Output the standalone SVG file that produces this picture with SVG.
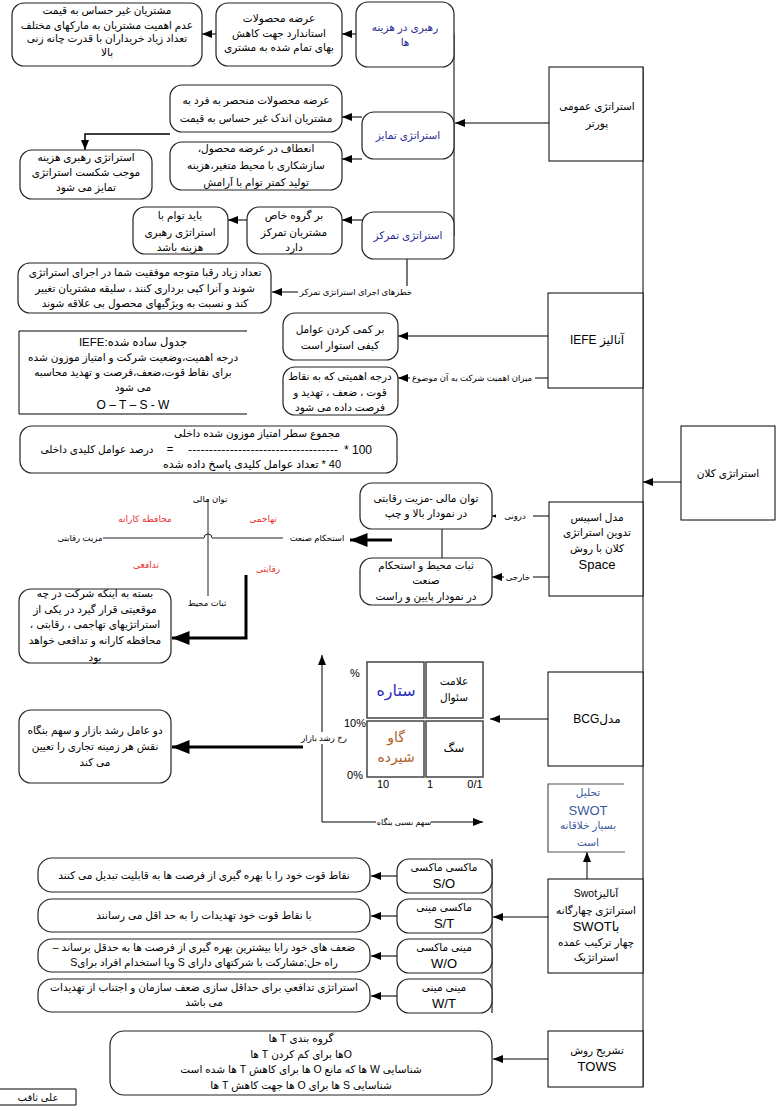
<svg xmlns="http://www.w3.org/2000/svg" width="776" height="1107" viewBox="0 0 776 1107">
<defs>
<marker id="a" viewBox="0 0 10 8" refX="10" refY="4" markerWidth="11" markerHeight="8" markerUnits="userSpaceOnUse" orient="auto"><path d="M0,0 L10,4 L0,8 z" fill="#000"/></marker>
<marker id="A" viewBox="0 0 10 8" refX="10" refY="4" markerWidth="20" markerHeight="14" markerUnits="userSpaceOnUse" orient="auto"><path d="M0,0 L10,4 L0,8 z" fill="#000"/></marker>
<style>
.sq{fill:#fff;stroke:#000;stroke-width:1}
.rd{fill:#fff;stroke:#222;stroke-width:1.2}
.t{font-family:"Liberation Sans","DejaVu Sans",sans-serif;font-size:10.5px;fill:#000;text-anchor:middle;direction:rtl}
.l{font-family:"Liberation Sans","DejaVu Sans",sans-serif;fill:#000;text-anchor:middle}
.sm{font-size:8.5px}
.bl{fill:#2b2b96}
.sb{fill:#3a5a9a}
.rdt{fill:#e8302f;font-size:9px}
.c{fill:none;stroke:#000;stroke-width:1}
.g{fill:none;stroke:#555;stroke-width:1.6}
.k{fill:none;stroke:#000;stroke-width:3}
</style>
</defs>

<g id="connectors">
<line class="c" x1="643" y1="67" x2="643" y2="1087"/>
<line class="c" x1="454" y1="34" x2="454" y2="236"/>
<line class="c" x1="549" y1="123" x2="455" y2="123" marker-end="url(#a)"/>
<line class="g" x1="356" y1="34" x2="342" y2="34" marker-end="url(#a)"/>
<line class="g" x1="216" y1="34" x2="202" y2="34" marker-end="url(#a)"/>
<line class="g" x1="362" y1="117" x2="342" y2="117" marker-end="url(#a)"/>
<line class="g" x1="362" y1="159" x2="342" y2="159" marker-end="url(#a)"/>
<path d="M170,134 H85 V150" fill="none" stroke="#000" stroke-width="1.5" marker-end="url(#a)"/>
<line class="g" x1="362" y1="220" x2="342" y2="220" marker-end="url(#a)"/>
<line class="g" x1="247" y1="220" x2="228" y2="220" marker-end="url(#a)"/>
<line class="g" x1="407" y1="259" x2="407" y2="286"/>
<line class="c" x1="298" y1="292" x2="272" y2="292" marker-end="url(#a)"/>
<line class="g" x1="548" y1="336" x2="398" y2="336" marker-end="url(#a)"/>
<line class="c" x1="548" y1="378" x2="398" y2="378" marker-end="url(#a)"/>
<line class="c" x1="681" y1="482" x2="643" y2="482" marker-end="url(#a)"/>
<line class="c" x1="549" y1="516" x2="492" y2="516" marker-end="url(#a)"/>
<line class="c" x1="549" y1="577" x2="492" y2="577" marker-end="url(#a)"/>
<line class="c" x1="442" y1="529" x2="442" y2="558"/>
<line class="k" x1="392" y1="540" x2="350" y2="540" marker-end="url(#A)"/>
<path class="k" d="M246,575 V638 H172" marker-end="url(#A)"/>
<path class="c" d="M322,822 V655" marker-end="url(#a)"/>
<path class="c" d="M322,822 H483" marker-end="url(#a)"/>
<line class="k" x1="303" y1="747" x2="172" y2="747" marker-end="url(#A)"/>
<line class="c" x1="548" y1="719" x2="490" y2="719" marker-end="url(#a)"/>
<line class="c" x1="587" y1="879" x2="587" y2="852" marker-end="url(#a)"/>
<line class="c" x1="548" y1="917" x2="493" y2="917" marker-end="url(#a)"/>
<line class="g" x1="492" y1="859" x2="492" y2="1013"/>
<line class="g" x1="397" y1="876" x2="371" y2="876" marker-end="url(#a)"/>
<line class="g" x1="397" y1="916" x2="371" y2="916" marker-end="url(#a)"/>
<line class="g" x1="397" y1="956" x2="371" y2="956" marker-end="url(#a)"/>
<line class="g" x1="397" y1="996" x2="371" y2="996" marker-end="url(#a)"/>
<line class="g" x1="548" y1="1059" x2="493" y2="1059" marker-end="url(#a)"/>
</g>

<g id="porter">
<rect class="sq" x="549" y="67" width="94" height="94"/>
<text class="t" x="597" y="110">استراتژی عمومی</text>
<text class="t" x="597" y="127">پورتر</text>
</g>
<g id="cost-leadership">
<rect class="rd" x="356" y="2" width="98" height="65" rx="12"/>
<text class="t bl" x="405" y="31">رهبری در هزینه</text>
<text class="t bl" x="405" y="46">ها</text>
</g>
<g id="cost-desc">
<rect class="rd" x="216" y="3" width="126" height="63" rx="12"/>
<text class="t" x="279" y="22">عرضه محصولات</text>
<text class="t" x="279" y="37">استاندارد جهت کاهش</text>
<text class="t" x="279" y="51">بهای تمام شده به مشتری</text>
</g>
<g id="cost-cond">
<rect class="rd" x="12" y="3" width="190" height="63" rx="12"/>
<text class="t" x="107" y="14">مشتریان غیر حساس به قیمت</text>
<text class="t" x="107" y="29">عدم اهمیت مشتریان به مارکهای مختلف</text>
<text class="t" x="107" y="42">تعداد زیاد خریداران با قدرت چانه زنی</text>
<text class="t" x="107" y="56">بالا</text>
</g>
<g id="differentiation">
<rect class="rd" x="362" y="112" width="92" height="47" rx="12"/>
<text class="t bl" x="408" y="139">استراتژی تمایز</text>
</g>
<g id="diff-desc1">
<rect class="rd" x="170" y="85" width="172" height="47" rx="12"/>
<text class="t" x="256" y="104">عرضه محصولات منحصر به فرد به</text>
<text class="t" x="256" y="122">مشتریان اندک غیر حساس به قیمت</text>
</g>
<g id="diff-desc2">
<rect class="rd" x="170" y="142" width="172" height="48" rx="12"/>
<text class="t" x="256" y="152">انعطاف در عرضه محصول،</text>
<text class="t" x="256" y="169">سازشکاری با محیط متغیر،هزینه</text>
<text class="t" x="256" y="186">تولید کمتر توام با آرامش</text>
</g>
<g id="diff-risk">
<rect class="rd" x="20" y="150" width="132" height="49" rx="12"/>
<text class="t" x="86" y="161">استراتژی رهبری هزینه</text>
<text class="t" x="86" y="176">موجب شکست استراتژی</text>
<text class="t" x="86" y="191">تمایز می شود</text>
</g>
<g id="focus">
<rect class="rd" x="362" y="212" width="92" height="47" rx="12"/>
<text class="t bl" x="408" y="239">استراتژی تمرکز</text>
</g>
<g id="focus-desc">
<rect class="rd" x="247" y="207" width="95" height="47" rx="12"/>
<text class="t" x="294" y="219">بر گروه خاص</text>
<text class="t" x="294" y="236">مشتریان تمرکز</text>
<text class="t" x="294" y="251">دارد</text>
</g>
<g id="focus-cond">
<rect class="rd" x="133" y="207" width="95" height="47" rx="12"/>
<text class="t" x="180" y="219">باید توام با</text>
<text class="t" x="180" y="236">استراتژی رهبری</text>
<text class="t" x="180" y="251">هزینه باشد</text>
</g>
<g id="focus-risk-label">
<text class="t sm" x="356" y="295">خطرهای اجرای استراتژی تمرکز</text>
</g>
<g id="focus-risk">
<rect class="rd" x="18" y="263" width="253" height="50" rx="12"/>
<text class="t" x="145" y="276">تعداد زیاد رقبا متوجه موفقیت شما در اجرای استراتژی</text>
<text class="t" x="145" y="292">شوند و آنرا کپی برداری کنند ، سلیقه مشتریان تغییر</text>
<text class="t" x="145" y="307">کند و نسبت به ویژگیهای محصول بی علاقه شوند</text>
</g>

<g id="iefe">
<rect class="sq" x="548" y="293" width="95" height="95"/>
<text class="t" x="597" y="344" style="font-size:12px">آنالیز IEFE</text>
</g>
<g id="iefe-desc1">
<rect class="rd" x="283" y="313" width="115" height="47" rx="12"/>
<text class="t" x="340" y="333">بر کمی کردن عوامل</text>
<text class="t" x="340" y="349">کیفی استوار است</text>
</g>
<g id="iefe-label">
<rect x="410" y="372" width="125" height="12" fill="#fff"/>
<text class="t sm" x="472" y="381">میزان اهمیت شرکت به آن موضوع</text>
</g>
<g id="iefe-desc2">
<rect class="rd" x="283" y="367" width="115" height="48" rx="12"/>
<text class="t" x="340" y="380">درجه اهمیتی که به نقاط</text>
<text class="t" x="340" y="396">قوت ، ضعف ، تهدید و</text>
<text class="t" x="340" y="411">فرصت داده می شود</text>
</g>
<g id="iefe-table">
<path d="M247,331 H19 V414 H247" fill="none" stroke="#000" stroke-width="1"/>
<text class="t" x="133" y="346" style="font-size:11.5px">جدول ساده شده:IEFE</text>
<text class="t" x="133" y="361">درجه اهمیت،وضعیت شرکت و امتیاز موزون شده</text>
<text class="t" x="133" y="376">برای نقاط قوت،ضعف،فرصت و تهدید محاسبه</text>
<text class="t" x="133" y="391">می شود</text>
<text class="l" x="133" y="409" style="font-size:12px">O – T – S - W</text>
</g>
<g id="formula">
<rect class="rd" x="20" y="426" width="377" height="47" rx="12"/>
<text class="t" x="257" y="437">مجموع سطر امتیاز موزون شده داخلی</text>
<text class="t" x="97" y="453">درصد عوامل کلیدی داخلی</text>
<text class="l" x="170" y="453" style="font-size:11px">=</text>
<text class="l" x="263" y="453" style="font-size:11px" textLength="150" lengthAdjust="spacingAndGlyphs">------------------------------------</text>
<text class="l" x="358" y="454" style="font-size:12px">* 100</text>
<text class="t" x="252" y="468" style="font-size:11px">40 * تعداد عوامل کلیدی پاسخ داده شده</text>
</g>

<g id="grand">
<rect class="sq" x="681" y="426" width="94" height="94"/>
<text class="t" x="728" y="477">استراتژی کلان</text>
</g>
<g id="space">
<rect class="sq" x="549" y="502" width="94" height="94"/>
<text class="t" x="597" y="521">مدل اسپیس</text>
<text class="t" x="597" y="536">تدوین استراتژی</text>
<text class="t" x="597" y="552">کلان با روش</text>
<text class="l" x="597" y="569" style="font-size:13px">Space</text>
</g>
<g id="space-labels">
<rect x="496" y="510" width="37" height="12" fill="#fff"/>
<text class="t sm" x="515" y="519">درونی</text>
<rect x="504" y="571" width="29" height="12" fill="#fff"/>
<text class="t sm" x="518" y="580">خارجی</text>
</g>
<g id="space-int">
<rect class="rd" x="360" y="483" width="132" height="46" rx="12"/>
<text class="t" x="426" y="502">توان مالی -مزیت رقابتی</text>
<text class="t" x="426" y="517">در نمودار بالا و چپ</text>
</g>
<g id="space-ext">
<rect class="rd" x="360" y="558" width="132" height="47" rx="12"/>
<text class="t" x="426" y="569">ثبات محیط و استحکام</text>
<text class="t" x="426" y="584">صنعت</text>
<text class="t" x="426" y="600">در نمودار پایین و راست</text>
</g>
<g id="space-chart">
<path d="M103,538 H204 A4,4 0 0 1 212,538 H283" fill="none" stroke="#222" stroke-width="1"/>
<line x1="208" y1="499" x2="208" y2="596" stroke="#222" stroke-width="1"/>
<text class="t sm" x="210" y="502">توان مالی</text>
<text class="t sm" x="207" y="606">ثبات محیط</text>
<text class="t sm" x="80" y="541">مزیت رقابتی</text>
<text class="t sm" x="317" y="541">استحکام صنعت</text>
<text class="t rdt" x="145" y="522">محافظه کارانه</text>
<text class="t rdt" x="263" y="522">تهاجمی</text>
<text class="t rdt" x="146" y="568">تدافعی</text>
<text class="t rdt" x="268" y="572">رقابتی</text>
</g>
<g id="space-result">
<rect class="rd" x="19" y="589" width="152" height="74" rx="12"/>
<text class="t" x="95" y="597">بسته به اینکه شرکت در چه</text>
<text class="t" x="95" y="613">موقعیتی قرار گیرد در یکی از</text>
<text class="t" x="95" y="628">استراتژیهای تهاجمی ، رقابتی ،</text>
<text class="t" x="95" y="644">محافظه کارانه و تدافعی خواهد</text>
<text class="t" x="95" y="661">بود</text>
</g>

<g id="bcg">
<rect class="sq" x="548" y="672" width="95" height="94"/>
<text class="t" x="597" y="723" style="font-size:12px">مدلBCG</text>
</g>
<g id="bcg-matrix">
<rect x="367" y="662" width="57" height="56" fill="#fff" stroke="#444" stroke-width="1.5"/>
<rect x="426" y="662" width="57" height="56" fill="#fff" stroke="#444" stroke-width="1.5"/>
<rect x="367" y="721" width="57" height="56" fill="#fff" stroke="#444" stroke-width="1.5"/>
<rect x="426" y="721" width="57" height="56" fill="#fff" stroke="#444" stroke-width="1.5"/>
<text class="t" x="396" y="696" style="font-size:16px;fill:#2a2ac0">ستاره</text>
<text class="t" x="454" y="685">علامت</text>
<text class="t" x="454" y="701">سئوال</text>
<text class="t" x="396" y="742" style="font-size:14px;fill:#b0602a">گاو</text>
<text class="t" x="396" y="762" style="font-size:14px;fill:#b0602a">شیرده</text>
<text class="t" x="454" y="752" style="font-size:12px">سگ</text>
<text class="l" x="355" y="677" style="font-size:11px">%</text>
<text class="l" x="355" y="727" style="font-size:11px">10%</text>
<text class="l" x="355" y="779" style="font-size:11px">0%</text>
<text class="l" x="383" y="788" style="font-size:11px">10</text>
<text class="l" x="430" y="788" style="font-size:11px">1</text>
<text class="l" x="475" y="788" style="font-size:11px">0/1</text>
<rect x="303" y="732" width="42" height="12" fill="#fff"/>
<text class="t sm" x="324" y="741">رخ رشد بازار</text>
<rect x="376" y="816" width="55" height="12" fill="#fff"/>
<text class="t" x="404" y="825" style="font-size:8px">سهم نسبی بنگاه</text>
</g>
<g id="bcg-result">
<rect class="rd" x="19" y="710" width="152" height="73" rx="12"/>
<text class="t" x="95" y="734">دو عامل رشد بازار و سهم بنگاه</text>
<text class="t" x="95" y="750">نقش هر زمینه تجاری را تعیین</text>
<text class="t" x="95" y="766">می کند</text>
</g>

<g id="swot-note">
<path d="M624,784 H548 V852 H625" fill="none" stroke="#555" stroke-width="1.2"/>
<text class="t sb" x="588" y="796">تحلیل</text>
<text class="l sb" x="588" y="815" style="font-size:13px">SWOT</text>
<text class="t sb" x="588" y="829">بسیار خلاقانه</text>
<text class="t sb" x="588" y="846">است</text>
</g>
<g id="swot">
<rect class="sq" x="548" y="879" width="95" height="94"/>
<text class="t" x="596" y="897">آنالیزSwot</text>
<text class="t" x="596" y="914">استراتژی چهارگانه</text>
<text class="t" x="596" y="931" style="font-size:13px">باSWOT</text>
<text class="t" x="596" y="946">چهار ترکیب عمده</text>
<text class="t" x="596" y="961">استراتژیک</text>
</g>
<g id="so">
<rect class="rd" x="397" y="859" width="95" height="34" rx="12"/>
<text class="t" x="444" y="871">ماکسی ماکسی</text>
<text class="l" x="444" y="888" style="font-size:13px">S/O</text>
</g>
<g id="st">
<rect class="rd" x="397" y="899" width="95" height="34" rx="12"/>
<text class="t" x="444" y="911">ماکسی مینی</text>
<text class="l" x="444" y="928" style="font-size:13px">S/T</text>
</g>
<g id="wo">
<rect class="rd" x="397" y="939" width="95" height="34" rx="12"/>
<text class="t" x="444" y="951">مینی ماکسی</text>
<text class="l" x="444" y="968" style="font-size:13px">W/O</text>
</g>
<g id="wt">
<rect class="rd" x="397" y="979" width="95" height="34" rx="12"/>
<text class="t" x="444" y="991">مینی مینی</text>
<text class="l" x="444" y="1008" style="font-size:13px">W/T</text>
</g>
<g id="so-desc">
<rect class="rd" x="38" y="858" width="332" height="34" rx="14"/>
<text class="t" x="204" y="879">نقاط قوت خود را با بهره گیری از فرصت ها به قابلیت تبدیل می کنند</text>
</g>
<g id="st-desc">
<rect class="rd" x="38" y="899" width="332" height="33" rx="14"/>
<text class="t" x="204" y="919">با نقاط قوت خود تهدیدات را به حد اقل می رسانند</text>
</g>
<g id="wo-desc">
<rect class="rd" x="38" y="939" width="332" height="33" rx="14"/>
<text class="t" x="204" y="951">ضعف های خود رابا بیشترین بهره گیری از فرصت ها به حدقل برساند –</text>
<text class="t" x="204" y="966">راه حل:مشارکت با شرکتهای دارای S ویا استخدام افراد برایS</text>
</g>
<g id="wt-desc">
<rect class="rd" x="38" y="979" width="332" height="33" rx="14"/>
<text class="t" x="204" y="991">استراتژی تدافعي برای حداقل سازی ضعف سازمان و اجتناب از تهدیدات</text>
<text class="t" x="204" y="1006">می باشد</text>
</g>

<g id="tows">
<rect class="sq" x="548" y="1031" width="95" height="56"/>
<text class="t" x="597" y="1054">تشریح روش</text>
<text class="l" x="597" y="1071" style="font-size:13px">TOWS</text>
</g>
<g id="tows-desc">
<rect class="rd" x="110" y="1031" width="382" height="64" rx="14"/>
<text class="t" x="301" y="1042">گروه بندی T ها</text>
<text class="t" x="301" y="1058">Oها برای کم کردن  T ها</text>
<text class="t" x="301" y="1073">شناسایی W ها که مانع O  ها برای کاهش  T ها شده است</text>
<text class="t" x="301" y="1089">شناسایی S ها برای O  ها جهت کاهش T  ها</text>
</g>
<g id="author">
<path d="M0,1089 H76 V1105 H0" fill="none" stroke="#000" stroke-width="1"/>
<text class="t" x="38" y="1101" style="font-size:10px">علی ثاقب</text>
</g>
</svg>
